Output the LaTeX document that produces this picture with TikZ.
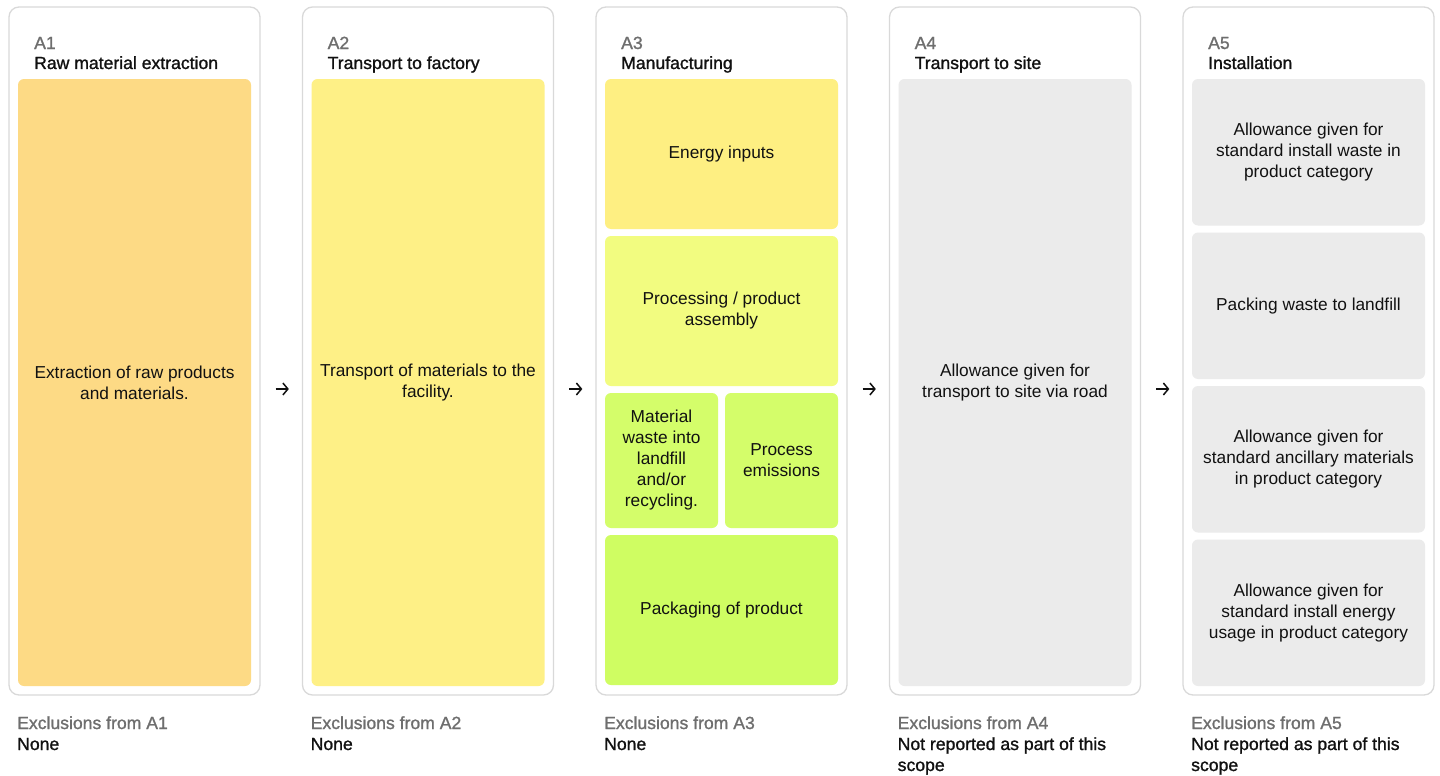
\documentclass[tikz,border=0pt]{standalone}
\usepackage{fontspec}
\setmainfont{Liberation Sans}
\newfontfamily\medfont[FakeBold=1.2]{Liberation Sans}
\usetikzlibrary{arrows.meta}
\definecolor{panelline}{HTML}{D9D9D9}
\definecolor{labgray}{HTML}{6E6E6E}
\definecolor{txt}{HTML}{111111}
\definecolor{cA}{HTML}{FDDA85}
\definecolor{cB}{HTML}{FEF086}
\definecolor{cEn}{HTML}{FEEF82}
\definecolor{cPr}{HTML}{F2FC80}
\definecolor{cSm}{HTML}{D4FD6A}
\definecolor{cPk}{HTML}{CFFD62}
\definecolor{cG}{HTML}{EBEBEB}
\tikzset{
  panel/.style={draw=panelline, line width=1.3pt, rounded corners=10pt, fill=white,
    minimum width=251pt, minimum height=688pt, inner sep=0pt},
  inbox/.style={rounded corners=6pt, inner sep=0pt, align=center, text=txt,
    font=\fontsize{17.3}{21}\selectfont},
  code/.style={anchor=base west, inner sep=0pt, text=labgray, font=\medfont\fontsize{17.6}{21}\selectfont},
  ttl/.style={anchor=base west, inner sep=0pt, text=txt, font=\medfont\fontsize{17.6}{21}\selectfont},
  excl/.style={anchor=base west, inner sep=0pt, text=labgray, font=\medfont\fontsize{17.6}{21}\selectfont},
  exval/.style={anchor=base west, inner sep=0pt, text=txt, align=left, font=\medfont\fontsize{17.6}{21}\selectfont},
  flow/.style={-{Straight Barb[length=5pt,width=12pt,line width=1.5pt]}, line width=1.5pt, txt},
}
\begin{document}
\begin{tikzpicture}[x=1pt,y=-1pt]
\useasboundingbox (0,0) rectangle (1440,776);
% panels
\node[panel] (p1) at (134.5,351) {};
\node[panel] (p2) at (428,351) {};
\node[panel] (p3) at (721.5,351) {};
\node[panel] (p4) at (1015,351) {};
\node[panel] (p5) at (1308.5,351) {};
% headings
\node[code] (c1) at (34,49) {A1};
\node[ttl] (t1) at (34,69) {Raw material extraction};
\node[code] (c2) at (327.5,49) {A2};
\node[ttl] (t2) at (327.5,69) {Transport to factory};
\node[code] (c3) at (621,49) {A3};
\node[ttl] (t3) at (621,69) {Manufacturing};
\node[code] (c4) at (914.5,49) {A4};
\node[ttl] (t4) at (914.5,69) {Transport to site};
\node[code] (c5) at (1208,49) {A5};
\node[ttl] (t5) at (1208,69) {Installation};
% inner boxes
\node[inbox, fill=cA, minimum width=233pt, minimum height=607pt] (b1) at (134.5,382.5)
  {Extraction of raw products\\and materials.};
\node[inbox, fill=cB, minimum width=233pt, minimum height=607pt] (b2) at (428,382.5)
  {Transport of materials to the\\facility.};
\node[inbox, fill=cEn, minimum width=233pt, minimum height=150pt] (b3a) at (721.5,154)
  {Energy inputs};
\node[inbox, fill=cPr, minimum width=233pt, minimum height=150pt] (b3b) at (721.5,311)
  {Processing / product\\assembly};
\node[inbox, fill=cSm, minimum width=113pt, minimum height=135pt] (b3c) at (661.5,460.5)
  {Material\\waste into\\landfill\\and/or\\recycling.};
\node[inbox, fill=cSm, minimum width=113pt, minimum height=135pt] (b3d) at (781.5,460.5)
  {Process\\emissions};
\node[inbox, fill=cPk, minimum width=233pt, minimum height=150pt] (b3e) at (721.5,610)
  {Packaging of product};
\node[inbox, fill=cG, minimum width=233pt, minimum height=607pt] (b4) at (1015,382.5)
  {Allowance given for\\transport to site via road};
\node[inbox, fill=cG, minimum width=233pt, minimum height=146.5pt] (b5a) at (1308.5,152.25)
  {Allowance given for\\standard install waste in\\product category};
\node[inbox, fill=cG, minimum width=233pt, minimum height=146.5pt] (b5b) at (1308.5,305.75)
  {Packing waste to landfill};
\node[inbox, fill=cG, minimum width=233pt, minimum height=146.5pt] (b5c) at (1308.5,459.25)
  {Allowance given for\\standard ancillary materials\\in product category};
\node[inbox, fill=cG, minimum width=233pt, minimum height=146.5pt] (b5d) at (1308.5,612.75)
  {Allowance given for\\standard install energy\\usage in product category};
% arrows
\draw[flow, shorten <=15pt, shorten >=13pt] ([yshift=-38pt]p1.east) -- ([yshift=-38pt]p2.west);
\draw[flow, shorten <=15pt, shorten >=13pt] ([yshift=-38pt]p2.east) -- ([yshift=-38pt]p3.west);
\draw[flow, shorten <=15pt, shorten >=13pt] ([yshift=-38pt]p3.east) -- ([yshift=-38pt]p4.west);
\draw[flow, shorten <=15pt, shorten >=13pt] ([yshift=-38pt]p4.east) -- ([yshift=-38pt]p5.west);
% exclusions
\node[excl] (e1) at (17,729) {Exclusions from A1};
\node[exval] (v1) at (17,750) {None};
\node[excl] (e2) at (310.5,729) {Exclusions from A2};
\node[exval] (v2) at (310.5,750) {None};
\node[excl] (e3) at (604,729) {Exclusions from A3};
\node[exval] (v3) at (604,750) {None};
\node[excl] (e4) at (897.5,729) {Exclusions from A4};
\node[exval] (v4) at (897.5,771) {Not reported as part of this\\scope};
\node[excl] (e5) at (1191,729) {Exclusions from A5};
\node[exval] (v5) at (1191,771) {Not reported as part of this\\scope};
\end{tikzpicture}
\end{document}
